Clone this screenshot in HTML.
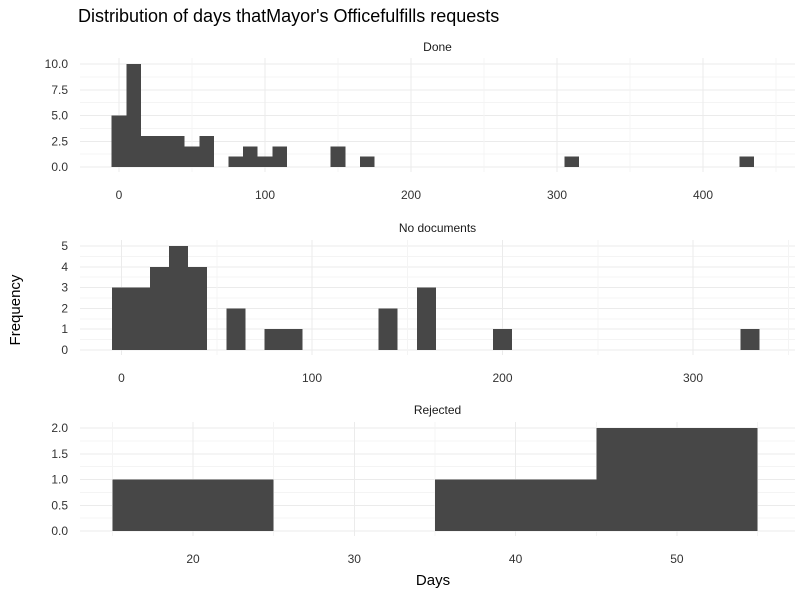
<!DOCTYPE html>
<html><head><meta charset="utf-8"><style>
body{margin:0;background:#fff;font-family:"Liberation Sans",sans-serif}
</style></head><body>
<svg id="c" width="800" height="600" xmlns="http://www.w3.org/2000/svg" font-family="Liberation Sans, sans-serif" shape-rendering="crispEdges">
<text x="78" y="22" font-size="18" fill="#000">Distribution of days thatMayor's Officefulfills requests</text>
<text x="20" y="310" font-size="15" text-anchor="middle" transform="rotate(-90 20 310)">Frequency</text>
<text x="433" y="585" font-size="15" text-anchor="middle">Days</text>
</svg>
<script>
const doneStarts=[-5,5,15,25,35,45,55,75,85,95,105,145,165,305,425];
const doneCounts=[5,10,3,3,3,2,3,1,2,1,2,2,1,1,1];
const noDocStarts=[-5,5,15,25,35,55,75,85,135,155,195,325];
const noDocCounts=[3,3,4,5,4,2,1,1,2,3,1,1];
const rejStarts=[15,25,35,45];
const rejCounts=[1,0,1,2];
const doneXTicks=[0,100,200,300,400];
const doneYTicks=[0,2.5,5,7.5,10];
const noDocXTicks=[0,100,200,300];
const noDocYTicks=[0,1,2,3,4,5];
const rejXTicks=[20,30,40,50];
const rejYTicks=[0,0.5,1,1.5,2];
const panels=[
 {name:'done',title:'Done',starts:doneStarts,counts:doneCounts,w:10,xt:doneXTicks,yt:doneYTicks,x0:0,px0:119,pxu:1.46,y0:167,ypu:10.3,top:58,bot:172,dec:1,ty:47},
 {name:'no-documents',title:'No documents',starts:noDocStarts,counts:noDocCounts,w:10,xt:noDocXTicks,yt:noDocYTicks,x0:0,px0:121.5,pxu:1.905,y0:350,ypu:20.8,top:240,bot:355,dec:0,ty:228},
 {name:'rejected',title:'Rejected',starts:rejStarts,counts:rejCounts,w:10,xt:rejXTicks,yt:rejYTicks,x0:20,px0:193,pxu:16.13,y0:531,ypu:51.5,top:422,bot:536,dec:1,ty:410}
];
const svg=document.getElementById('c');
const NS='http://www.w3.org/2000/svg';
function mk(t,a){const e=document.createElementNS(NS,t);for(const k in a)e.setAttribute(k,a[k]);svg.appendChild(e);return e;}
const L=80,R=795;
panels.forEach(p=>{
 const sx=v=>p.px0+(v-p.x0)*p.pxu, sy=v=>p.y0-v*p.ypu;
 const st=mk('text',{x:(L+R)/2,y:p.ty+4,'font-size':12,'text-anchor':'middle',fill:'#1a1a1a'});st.textContent=p.title;
 
 
 const dy=p.yt[1]-p.yt[0];
 for(let i=0;i<p.yt.length;i++){
  const y=sy(p.yt[i]);
  const g=mk('line',{x1:L,x2:R,y1:y,y2:y,stroke:'#ebebeb','stroke-width':1});
  
  
  if(i<p.yt.length-1){const ym=sy(p.yt[i]+dy/2);const m=mk('line',{x1:L,x2:R,y1:ym,y2:ym,stroke:'#f4f4f4','stroke-width':1});
   
   }
  const t=mk('text',{x:L-12,y:y+4,'font-size':12,'text-anchor':'end',fill:'#333'});
  t.textContent=p.dec?p.yt[i].toFixed(1):String(p.yt[i]);
  
  
 }
 const dx=p.xt[1]-p.xt[0];
 for(let v=p.xt[0]-dx;v<=p.xt[p.xt.length-1]+dx;v+=dx/2){
  const x=sx(v); if(x<L||x>R) continue;
  const major=p.xt.includes(v);
  const g=mk('line',{x1:x,x2:x,y1:p.top,y2:p.bot,stroke:major?'#ebebeb':'#f4f4f4','stroke-width':1});
  
  
 }
 p.xt.forEach(v=>{const t=mk('text',{x:sx(v),y:p.bot+27,'font-size':12,'text-anchor':'middle',fill:'#333'});t.textContent=v;
  
  });
 p.starts.forEach((s,i)=>{
  if(!p.counts[i])return;
  const x1=sx(s),x2=sx(s+p.w);
  const b=mk('rect',{x:x1,y:sy(p.counts[i]),width:x2-x1,height:p.counts[i]*p.ypu,fill:'#474747'});
  
  
 });
});
</script>
</body></html>
